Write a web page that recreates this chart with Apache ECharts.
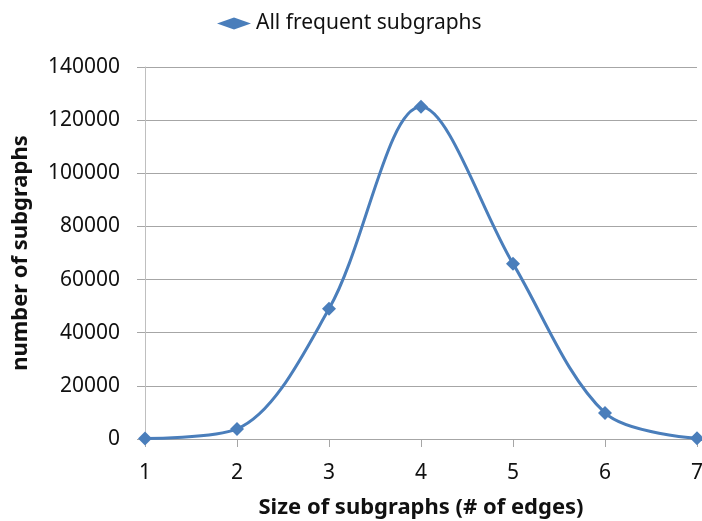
<!DOCTYPE html>
<html>
<head>
<meta charset="utf-8">
<script src="https://cdn.jsdelivr.net/npm/echarts@6/dist/echarts.min.js"></script>
<style>html,body{margin:0;padding:0;background:#fff}#c{width:702px;height:521px}</style>
</head>
<body>
<div id="c"></div>
<script>
const sizes = [1, 2, 3, 4, 5, 6, 7];
const counts = [200, 3800, 49000, 125000, 66000, 9800, 300];
const seriesName = 'All frequent subgraphs';
const xTitle = 'Size of subgraphs (# of edges)';
const yTitle = 'number of subgraphs';

const font = '"Noto Sans", "Open Sans", sans-serif';
const chart = echarts.init(document.getElementById('c'), null, {renderer: 'canvas'});
chart.setOption({
  animation: false,
  textStyle: {fontFamily: font},
  legend: {
    top: 8, left: 212,
    itemWidth: 34, itemHeight: 12,
    itemGap: 3,
    textStyle: {fontSize: 21, color: '#111', fontFamily: font},
    data: [{name: seriesName, icon: 'diamond'}]
  },
  grid: {left: 145, right: 5, top: 67, bottom: 82, containLabel: false, outerBoundsMode: 'none'},
  xAxis: {
    type: 'value', min: 1, max: 7, interval: 1,
    name: xTitle, nameLocation: 'middle', nameGap: 58,
    nameTextStyle: {fontSize: 22, fontWeight: 'bold', color: '#111', fontFamily: font},
    axisLine: {show: true, lineStyle: {color: '#a6a6a6', width: 1}},
    axisTick: {show: true, length: 8, lineStyle: {color: '#a6a6a6'}},
    axisLabel: {fontSize: 21, color: '#111', margin: 24, fontFamily: font, formatter: v => String(v)},
    splitLine: {show: false}
  },
  yAxis: {
    type: 'value', min: 0, max: 140000, interval: 20000,
    name: yTitle, nameLocation: 'middle', nameGap: 113, nameRotate: 90,
    nameTextStyle: {fontSize: 22, fontWeight: 'bold', color: '#111', fontFamily: font},
    axisLine: {show: true, lineStyle: {color: '#bfbfbf', width: 1}},
    axisTick: {show: true, length: 8, lineStyle: {color: '#a6a6a6'}},
    axisLabel: {fontSize: 21, color: '#111', margin: 25, fontFamily: font, formatter: v => String(v)},
    splitLine: {show: true, lineStyle: {color: '#a6a6a6', width: 1}}
  },
  series: [{
    name: seriesName,
    type: 'line',
    smooth: 0.33,
    data: sizes.map((s, i) => [s, counts[i]]),
    symbol: 'diamond',
    symbolSize: 14,
    lineStyle: {color: '#4a7ebb', width: 3},
    itemStyle: {color: '#4a7ebb'}
  }]
});
</script>
</body>
</html>
